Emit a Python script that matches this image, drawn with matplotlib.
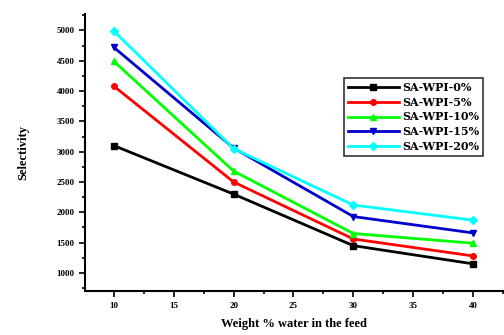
import matplotlib
matplotlib.use('Agg')
import matplotlib.pyplot as plt
from matplotlib.ticker import MultipleLocator

plt.rcParams['font.family'] = ['Liberation Serif', 'DejaVu Serif']

water = [10, 20, 30, 40]
sel_0 = [3100, 2300, 1450, 1150]
sel_5 = [4080, 2500, 1560, 1280]
sel_10 = [4490, 2680, 1650, 1490]
sel_15 = [4720, 3060, 1930, 1660]
sel_20 = [4990, 3050, 2120, 1870]
labels = ['SA-WPI-0%', 'SA-WPI-5%', 'SA-WPI-10%', 'SA-WPI-15%', 'SA-WPI-20%']

series = [sel_0, sel_5, sel_10, sel_15, sel_20]
colors = ['black', '#ff0000', '#00ff00', '#0000cc', '#00ffff']
marks = ['s', 'o', '^', 'v', 'D']

fig = plt.figure(figsize=(5.04, 3.35), dpi=100)
ax = fig.add_axes([0.169, 0.131, 0.829, 0.827])

for s, c, m, lab in zip(series, colors, marks, labels):
    ax.plot(water, s, color=c, marker=m, markersize=4, linewidth=2, label=lab)

ax.set_xlim(7.6, 42.5)
ax.set_ylim(700, 5270)
ax.xaxis.set_major_locator(MultipleLocator(5))
ax.xaxis.set_minor_locator(MultipleLocator(2.5))
ax.yaxis.set_minor_locator(MultipleLocator(250))
ax.set_yticks([1000, 1500, 2000, 2500, 3000, 3500, 4000, 4500, 5000])
ax.tick_params(which='both', direction='out', width=1.2, labelsize=6.5)
ax.tick_params(which='major', length=4)
ax.tick_params(which='minor', length=2.5)
for t in ax.get_xticklabels() + ax.get_yticklabels():
    t.set_fontweight('bold')

ax.spines['top'].set_visible(False)
ax.spines['right'].set_visible(False)
ax.spines['left'].set_linewidth(1.5)
ax.spines['bottom'].set_linewidth(1.5)

ax.set_xlabel('Weight % water in the feed', fontsize=9, fontweight='bold', labelpad=6)
ax.set_ylabel('Selectivity', fontsize=9, fontweight='bold', labelpad=20)

leg = ax.legend(loc='upper right', bbox_to_anchor=(0.966, 0.79),
                prop={'family': 'DejaVu Serif', 'weight': 'bold', 'size': 8},
                frameon=True, fancybox=False, edgecolor='black',
                handlelength=4.6, handletextpad=0.3, labelspacing=0.35, borderpad=0.35)
leg.get_frame().set_linewidth(1.2)

fig.savefig('out.png', dpi=100)
